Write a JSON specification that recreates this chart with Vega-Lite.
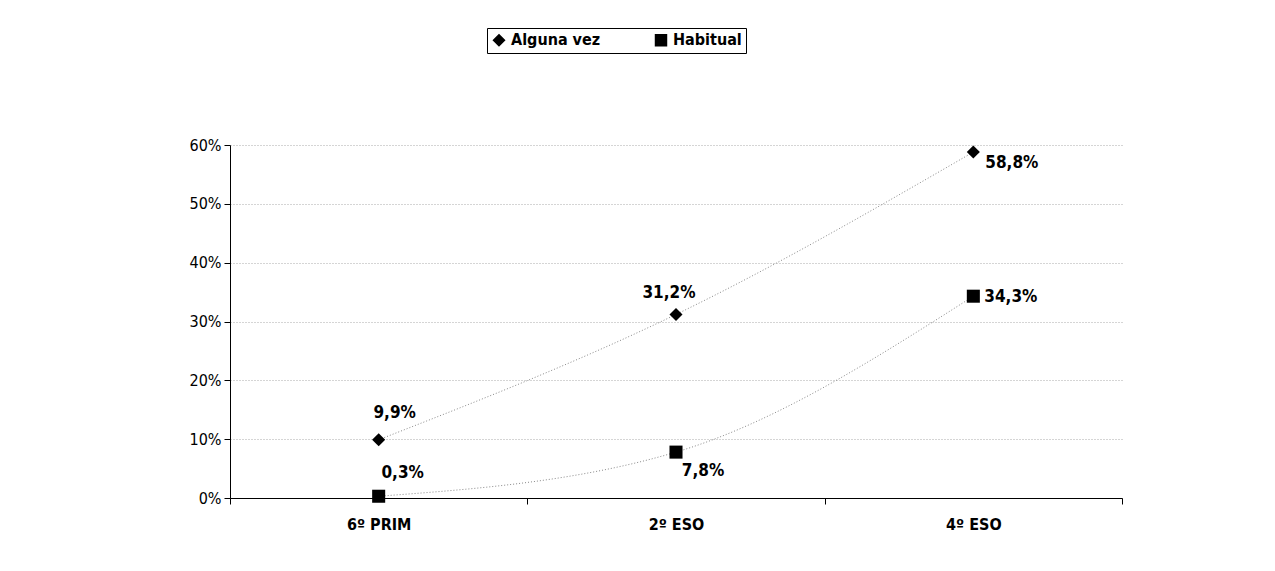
{
  "$schema": "https://vega.github.io/schema/vega-lite/v6.json",
  "autosize": "none",
  "width": 892,
  "height": 353,
  "padding": {"left": 230, "top": 145, "right": 153, "bottom": 73},
  "background": "white",
  "config": {
    "locale": {"number": {"decimal": ",", "thousands": ".", "grouping": [3], "currency": ["", " €"]}},
    "view": {"stroke": null},
    "font": "DejaVu Sans Condensed, sans-serif"
  },
  "data": {"values": [
    {"curso": "6º PRIM", "serie": "Alguna vez", "v": 0.099, "id": "a1"},
    {"curso": "2º ESO", "serie": "Alguna vez", "v": 0.312, "id": "a2"},
    {"curso": "4º ESO", "serie": "Alguna vez", "v": 0.588, "id": "a3"},
    {"curso": "6º PRIM", "serie": "Habitual", "v": 0.003, "id": "h1"},
    {"curso": "2º ESO", "serie": "Habitual", "v": 0.078, "id": "h2"},
    {"curso": "4º ESO", "serie": "Habitual", "v": 0.343, "id": "h3"}
  ]},
  "encoding": {
    "x": {"field": "curso", "type": "nominal", "sort": ["6º PRIM", "2º ESO", "4º ESO"],
      "scale": {"paddingInner": 0, "paddingOuter": 0},
      "axis": {"title": null, "labelAngle": 0, "tickBand": "extent", "domainColor": "#000", "tickColor": "#000", "tickSize": 6,
        "labelFont": "DejaVu Sans Condensed, sans-serif", "labelFontSize": 16, "labelFontWeight": "bold", "labelColor": "#000", "labelPadding": 12, "grid": false}},
    "y": {"field": "v", "type": "quantitative", "scale": {"domain": [0, 0.6], "nice": false},
      "axis": {"title": null, "format": ".0%", "values": [0, 0.1, 0.2, 0.3, 0.4, 0.5, 0.6], "domainColor": "#000", "tickColor": "#000", "tickSize": 6,
        "labelFont": "DejaVu Sans Condensed, sans-serif", "labelFontSize": 16, "labelColor": "#000", "labelPadding": 3,
        "grid": true, "gridColor": "#aaa", "gridDash": [1, 2], "gridWidth": 1}}
  },
  "layer": [
    {"mark": {"type": "line", "interpolate": "monotone", "stroke": "#888", "strokeDash": [1, 2], "strokeWidth": 1},
     "encoding": {"detail": {"field": "serie"}}},
    {"mark": {"type": "point", "filled": true, "opacity": 1},
     "encoding": {
       "color": {"field": "serie", "type": "nominal", "scale": {"range": ["#000", "#000"]}, "legend": null},
       "shape": {"field": "serie", "type": "nominal", "scale": {"domain": ["Alguna vez", "Habitual"], "range": ["diamond", "square"]},
         "legend": {"title": null, "orient": "none", "legendX": 257, "legendY": -117, "direction": "horizontal",
           "labelExpr": "datum.label == 'Habitual' ? 'Habitual\u2003\u2003\u2003\u2003' : datum.label",
           "strokeColor": "#000", "padding": 4, "columnPadding": 51, "symbolFillColor": "#000", "symbolStrokeColor": "#000", "symbolSize": 120,
           "labelFont": "DejaVu Sans Condensed, sans-serif", "labelFontSize": 16, "labelFontWeight": "bold", "labelColor": "#000"}},
       "size": {"value": 170}
     }},
    {"transform": [{"filter": "datum.id == 'a1'"}], "mark": {"type": "text", "align": "center", "baseline": "middle", "dx": 16, "dy": -27, "fontSize": 17, "fontWeight": "bold"}, "encoding": {"text": {"field": "v", "format": ".1%"}}},
    {"transform": [{"filter": "datum.id == 'a2'"}], "mark": {"type": "text", "align": "center", "baseline": "middle", "dx": -7, "dy": -21, "fontSize": 17, "fontWeight": "bold"}, "encoding": {"text": {"field": "v", "format": ".1%"}}},
    {"transform": [{"filter": "datum.id == 'a3'"}], "mark": {"type": "text", "align": "left", "baseline": "middle", "dx": 12, "dy": 11, "fontSize": 17, "fontWeight": "bold"}, "encoding": {"text": {"field": "v", "format": ".1%"}}},
    {"transform": [{"filter": "datum.id == 'h1'"}], "mark": {"type": "text", "align": "center", "baseline": "middle", "dx": 24, "dy": -23, "fontSize": 17, "fontWeight": "bold"}, "encoding": {"text": {"field": "v", "format": ".1%"}}},
    {"transform": [{"filter": "datum.id == 'h2'"}], "mark": {"type": "text", "align": "center", "baseline": "middle", "dx": 27, "dy": 19, "fontSize": 17, "fontWeight": "bold"}, "encoding": {"text": {"field": "v", "format": ".1%"}}},
    {"transform": [{"filter": "datum.id == 'h3'"}], "mark": {"type": "text", "align": "left", "baseline": "middle", "dx": 11, "dy": 1, "fontSize": 17, "fontWeight": "bold"}, "encoding": {"text": {"field": "v", "format": ".1%"}}}
  ]
}
